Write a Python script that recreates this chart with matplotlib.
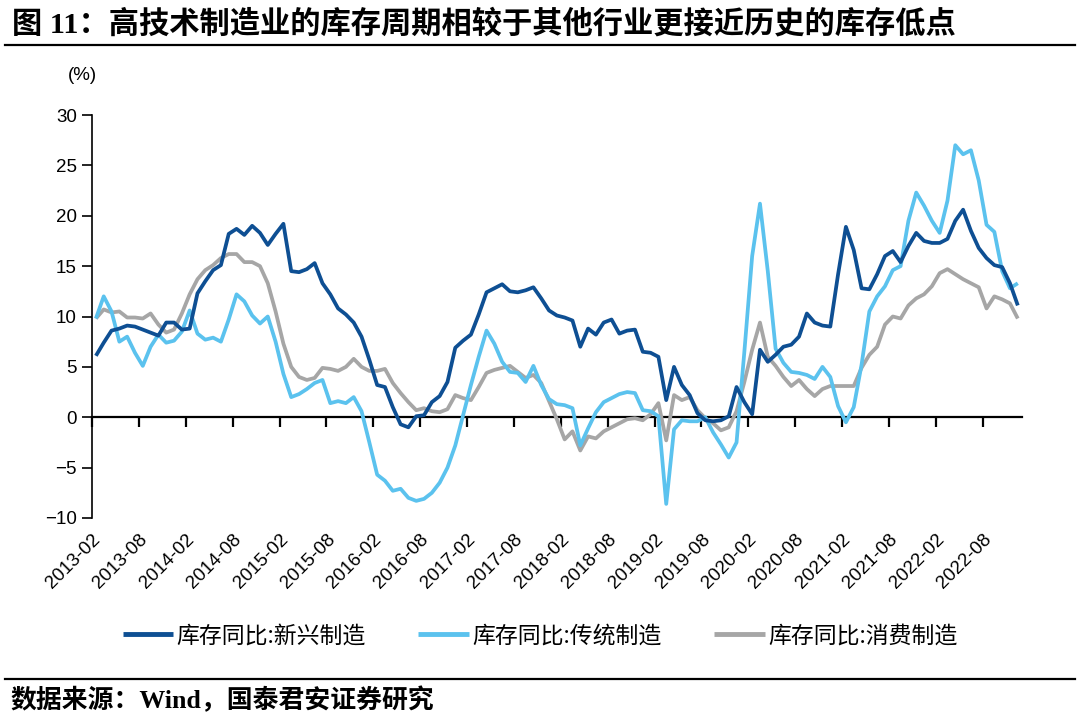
import numpy as np
import matplotlib
matplotlib.use("Agg")
import matplotlib.pyplot as plt
from matplotlib.lines import Line2D

plt.rcParams['font.family'] = ['Liberation Sans', 'Noto Sans CJK SC']
plt.rcParams['axes.unicode_minus'] = True

# ---- data (monthly, 2013-02 ... 2022-12) ----
tick_labels = ['2013-02', '2013-08', '2014-02', '2014-08', '2015-02', '2015-08',
               '2016-02', '2016-08', '2017-02', '2017-08', '2018-02', '2018-08',
               '2019-02', '2019-08', '2020-02', '2020-08', '2021-02', '2021-08',
               '2022-02', '2022-08']

emerging = [6.1, 7.4, 8.6, 8.8, 9.1, 9.0, 8.7, 8.4, 8.1, 9.4,
            9.4, 8.7, 8.8, 12.3, 13.5, 14.6, 15.1, 18.2, 18.7, 18.1,
            19.0, 18.3, 17.1, 18.2, 19.2, 14.5, 14.4, 14.7, 15.3, 13.3,
            12.2, 10.8, 10.2, 9.4, 8.0, 5.7, 3.2, 3.0, 1.0, -0.7,
            -1.0, 0.1, 0.2, 1.5, 2.1, 3.5, 6.9, 7.6, 8.2, 10.2,
            12.4, 12.8, 13.2, 12.5, 12.4, 12.6, 12.9, 11.8, 10.6, 10.1,
            9.9, 9.6, 7.0, 8.8, 8.2, 9.4, 9.7, 8.3, 8.6, 8.7,
            6.5, 6.4, 6.0, 1.7, 5.0, 3.2, 2.2, 0.4, -0.3, -0.4,
            -0.3, 0.1, 3.0, 1.5, 0.3, 6.7, 5.5, 6.2, 7.0, 7.2,
            8.0, 10.3, 9.4, 9.1, 9.0, 14.2, 18.9, 16.6, 12.8, 12.7,
            14.2, 16.0, 16.5, 15.4, 17.0, 18.3, 17.5, 17.3, 17.3, 17.7,
            19.5, 20.6, 18.5, 16.8, 15.8, 15.1, 14.9, 13.3, 11.1]

traditional = [9.8, 12.0, 10.5, 7.5, 8.0, 6.4, 5.1, 7.0, 8.2, 7.4,
               7.6, 8.5, 10.6, 8.3, 7.7, 7.9, 7.5, 9.7, 12.2, 11.5,
               10.1, 9.3, 10.0, 7.5, 4.3, 2.0, 2.3, 2.8, 3.4, 3.7,
               1.4, 1.6, 1.4, 2.0, 0.6, -2.5, -5.7, -6.3, -7.3, -7.1,
               -8.0, -8.3, -8.1, -7.5, -6.5, -5.0, -2.8, 0.2, 3.2, 6.0,
               8.6, 7.3, 5.5, 4.5, 4.4, 3.5, 5.1, 3.2, 1.8, 1.3,
               1.2, 0.9, -2.8, -1.1, 0.5, 1.5, 1.9, 2.3, 2.5, 2.4,
               0.7, 0.6, 0.1, -8.6, -1.2, -0.3, -0.4, -0.4, 0.0, -1.5,
               -2.7, -4.0, -2.5, 6.5, 16.0, 21.2, 14.5, 6.8, 5.4, 4.5,
               4.4, 4.2, 3.8, 5.0, 4.0, 1.1, -0.5, 1.0, 5.2, 10.5,
               12.0, 13.0, 14.6, 15.0, 19.5, 22.3, 21.0, 19.5, 18.3, 21.5,
               27.0, 26.1, 26.5, 23.5, 19.1, 18.4, 14.5, 12.8, 13.3]

consumer = [9.8, 10.7, 10.4, 10.5, 9.9, 9.9, 9.8, 10.3, 9.2, 8.4,
            8.7, 10.3, 12.2, 13.7, 14.6, 15.1, 15.8, 16.2, 16.2, 15.4,
            15.4, 15.0, 13.3, 10.5, 7.3, 5.0, 4.0, 3.7, 3.9, 4.9,
            4.8, 4.6, 5.0, 5.8, 5.0, 4.6, 4.6, 4.8, 3.4, 2.4,
            1.5, 0.7, 0.9, 0.6, 0.5, 0.8, 2.2, 1.9, 1.7, 3.0,
            4.4, 4.7, 4.9, 5.1, 4.5, 3.9, 4.2, 3.4, 1.6, -0.2,
            -2.2, -1.4, -3.3, -1.9, -2.1, -1.4, -1.0, -0.6, -0.2, -0.1,
            -0.3, 0.3, 1.4, -2.3, 2.2, 1.7, 2.0, 0.7, -0.1, -0.6,
            -1.3, -1.0, 0.6, 3.5, 6.7, 9.4, 6.0, 5.1, 4.0, 3.1,
            3.7, 2.8, 2.1, 2.8, 3.1, 3.1, 3.1, 3.1, 4.9, 6.2,
            7.0, 9.2, 10.0, 9.8, 11.1, 11.8, 12.2, 13.0, 14.3, 14.7,
            14.2, 13.7, 13.3, 12.9, 10.8, 12.0, 11.7, 11.3, 9.8]

series_names = ['库存同比:新兴制造', '库存同比:传统制造', '库存同比:消费制造']
colors = ['#0E4F93', '#5BC2EE', '#A6A6A6']

# ---- figure ----
W, H = 1080, 716
fig = plt.figure(figsize=(W / 100, H / 100), dpi=100)
ax = fig.add_axes([92 / W, 1 - 518 / H, (1021.7 - 92) / W, (518 - 115) / H])

x = np.arange(len(emerging)) + 0.5
handles = []
for vals, c, name, z in zip([emerging, traditional, consumer], colors, series_names,
                            [3, 2.5, 2]):
    h, = ax.plot(x, vals, color=c, lw=2.7, solid_joinstyle='round',
                 solid_capstyle='butt', label=name, zorder=z)
    handles.append(h)

ax.set_xlim(0, 119)
ax.set_ylim(-10, 30)
ax.set_yticks(np.arange(-10, 31, 5))
ax.tick_params(axis='y', direction='out', length=7, width=1.2, labelsize=13.5,
               pad=4, colors='black')

for s in ['top', 'right']:
    ax.spines[s].set_visible(False)
ax.spines['left'].set_linewidth(1.2)
ax.spines['bottom'].set_position(('data', 0))
ax.spines['bottom'].set_linewidth(1.6)
ax.spines['bottom'].set_zorder(1)

tick_pos = np.arange(0, 6 * len(tick_labels), 6)
ax.set_xticks(tick_pos)
ax.tick_params(axis='x', direction='out', length=7, width=1.6, labelbottom=False)

sec = ax.secondary_xaxis('bottom')
sec.set_xticks(tick_pos)
sec.set_xticklabels(tick_labels, rotation=45, ha='right', rotation_mode='anchor',
                    fontsize=13.5)
sec.tick_params(axis='x', length=0, pad=9)
sec.spines['bottom'].set_visible(False)

# unit label
fig.text(68 / W, 1 - 76 / H, '(%)', fontsize=13.5, ha='left', va='center')

# title and rules
fig.text(12 / W, 1 - 24 / H, '图 11：高技术制造业的库存周期相较于其他行业更接近历史的库存低点',
         fontsize=21.8, fontweight='bold', family=['Liberation Serif', 'Noto Sans CJK SC'],
         ha='left', va='center')
fig.add_artist(Line2D([5 / W, 1075 / W], [1 - 45 / H] * 2, color='black', lw=1.6))
fig.add_artist(Line2D([5 / W, 1075 / W], [1 - 679 / H] * 2, color='black', lw=1.6))
fig.text(10 / W, 1 - 700 / H, '数据来源：Wind，国泰君安证券研究', fontsize=18.6,
         fontweight='bold', family=['Liberation Serif', 'Noto Sans CJK SC'],
         ha='left', va='center')

leg = fig.legend(handles=handles, labels=series_names, loc='center',
                 bbox_to_anchor=(540 / W, 1 - 636 / H), ncol=3, frameon=False,
                 handlelength=2.2, handletextpad=0.15, columnspacing=2.3,
                 prop={'family': ['Noto Sans CJK SC'], 'size': 16.5})
for lh in leg.get_lines():
    lh.set_linewidth(3.5)

fig.savefig('out.png', dpi=100)
